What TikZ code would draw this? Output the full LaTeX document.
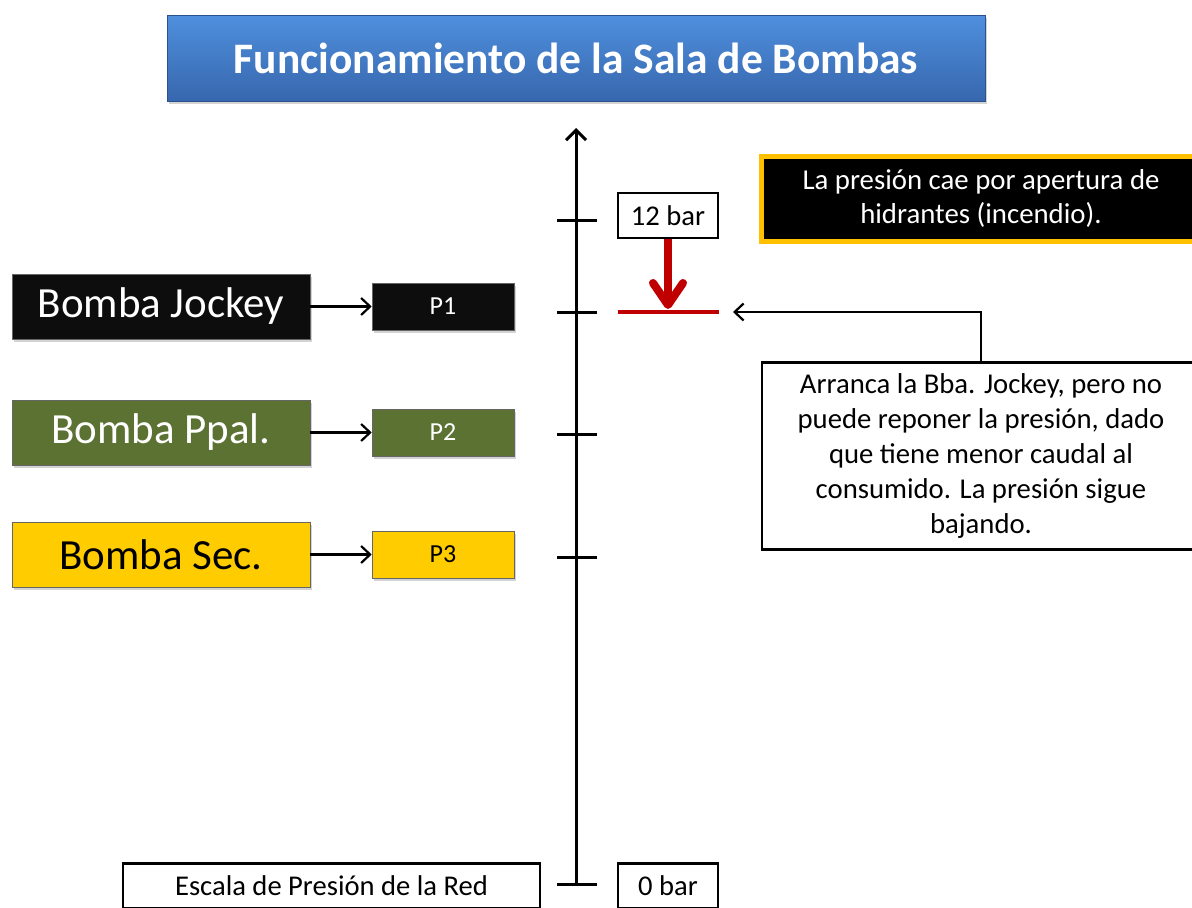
\documentclass[tikz,border=0pt]{standalone}
\usepackage{fontspec}
\setmainfont{Carlito}
\usetikzlibrary{arrows.meta,shadows}
\definecolor{titletop}{HTML}{4F8FDD}
\definecolor{titlebot}{HTML}{3767AE}
\definecolor{pblack}{HTML}{0D0D0D}
\definecolor{pgreen}{HTML}{5C7233}
\definecolor{pyellow}{HTML}{FFCC00}
\definecolor{byellow}{HTML}{FFC000}
\definecolor{dred}{HTML}{C00000}
\tikzset{
  shad/.style={drop shadow={shadow xshift=2pt,shadow yshift=-3pt,opacity=0.35}},
  titlebox/.style={shad,draw=titlebot!80!black,line width=0.8pt,top color=titletop,bottom color=titlebot,
    minimum width=818pt,minimum height=86pt,inner sep=0pt,text=white,
    font=\fontsize{43.5}{50}\selectfont\bfseries},
  pump/.style={shad,draw=black!60,line width=0.6pt,minimum width=298pt,minimum height=65pt,inner sep=0pt,
    font=\fontsize{43}{50}\selectfont},
  pbox/.style={shad,draw=black!60,line width=0.6pt,minimum width=142pt,minimum height=47pt,inner sep=0pt,
    font=\fontsize{26}{30}\selectfont},
  valbox/.style={draw=black,line width=2.5pt,fill=white,minimum width=100pt,minimum height=45pt,inner sep=0pt,
    font=\fontsize{28.6}{33}\selectfont},
  conn/.style={draw=black,line width=2.2pt,-{Straight Barb[length=9pt,width=17pt]}},
  axisline/.style={draw=black,line width=3pt,-{Straight Barb[length=10pt,width=20pt]}},
  tick/.style={draw=black,line width=3pt},
  redarrow/.style={draw=dred,line width=8pt,-{Straight Barb[length=22pt,width=30pt,round]}},
  redline/.style={draw=dred,line width=3.5pt},
  infobox/.style={draw=black,line width=2.5pt,fill=white,align=center,inner sep=0pt,
    font=\fontsize{28.7}{35}\selectfont},
  notebox/.style={shad,draw=byellow,line width=5pt,fill=black,text=white,align=center,inner sep=0pt,
    font=\fontsize{28.8}{34}\selectfont},
}
\begin{document}
\begin{tikzpicture}[x=1pt,y=-1pt]
\useasboundingbox (0,0) rectangle (1192,908);
\clip (0,0) rectangle (1192,908);
% title
\node[titlebox] (title) at (576,58) {Funcionamiento de la Sala de Bombas};
% pumps
\node[pump,fill=pblack,text=white] (jockey) at (161,306.5) {Bomba Jockey};
\node[pbox,fill=pblack,text=white] (p1) at (443,306.5) {P1};
\node[pump,fill=pgreen,text=white] (ppal) at (161,432.5) {Bomba Ppal.};
\node[pbox,fill=pgreen,text=white] (p2) at (443,432.5) {P2};
\node[pump,fill=pyellow,text=black] (sec) at (161,554.5) {Bomba Sec.};
\node[pbox,fill=pyellow,text=black] (p3) at (443,554.5) {P3};
\draw[conn] (jockey.east) -- (p1.west);
\draw[conn] (ppal.east) -- (p2.west);
\draw[conn] (sec.east) -- (p3.west);
% axis
\coordinate (axbot) at (576,885);
\coordinate (axtop) at (576,128);
\draw[axisline] (axbot) -- (axtop);
\foreach \yy in {220,312,434,557,884}{\draw[tick] (557,\yy) -- (597,\yy);}
% values
\node[valbox] (bar12) at (668,215.5) {12 bar};
\node[valbox] (bar0) at (668,886) {0 bar};
\node[valbox,minimum width=417pt] (escala) at (331.5,886) {Escala de Presión de la Red};
% red drop
\coordinate (rl1) at (618,312);
\coordinate (rl2) at (719,312);
\coordinate (rlmid) at (668,309);
\draw[redarrow] (bar12.south) -- (rlmid);
\draw[redline] (rl1) -- (rl2);
% note
\node[notebox,minimum width=440pt,minimum height=85pt] (note) at (981,198.5)
  {La presión cae por apertura de\\hidrantes (incendio).};
% callout
\node[infobox,minimum width=438pt,minimum height=187pt] (call) at (981,456)
  {Arranca la Bba. Jockey, pero no\\puede reponer la presión, dado\\que tiene menor caudal al\\consumido. La presión sigue\\bajando.};
\coordinate (tgt) at (733,312);
\draw[conn] (call.north) |- (tgt);
\end{tikzpicture}
\end{document}
